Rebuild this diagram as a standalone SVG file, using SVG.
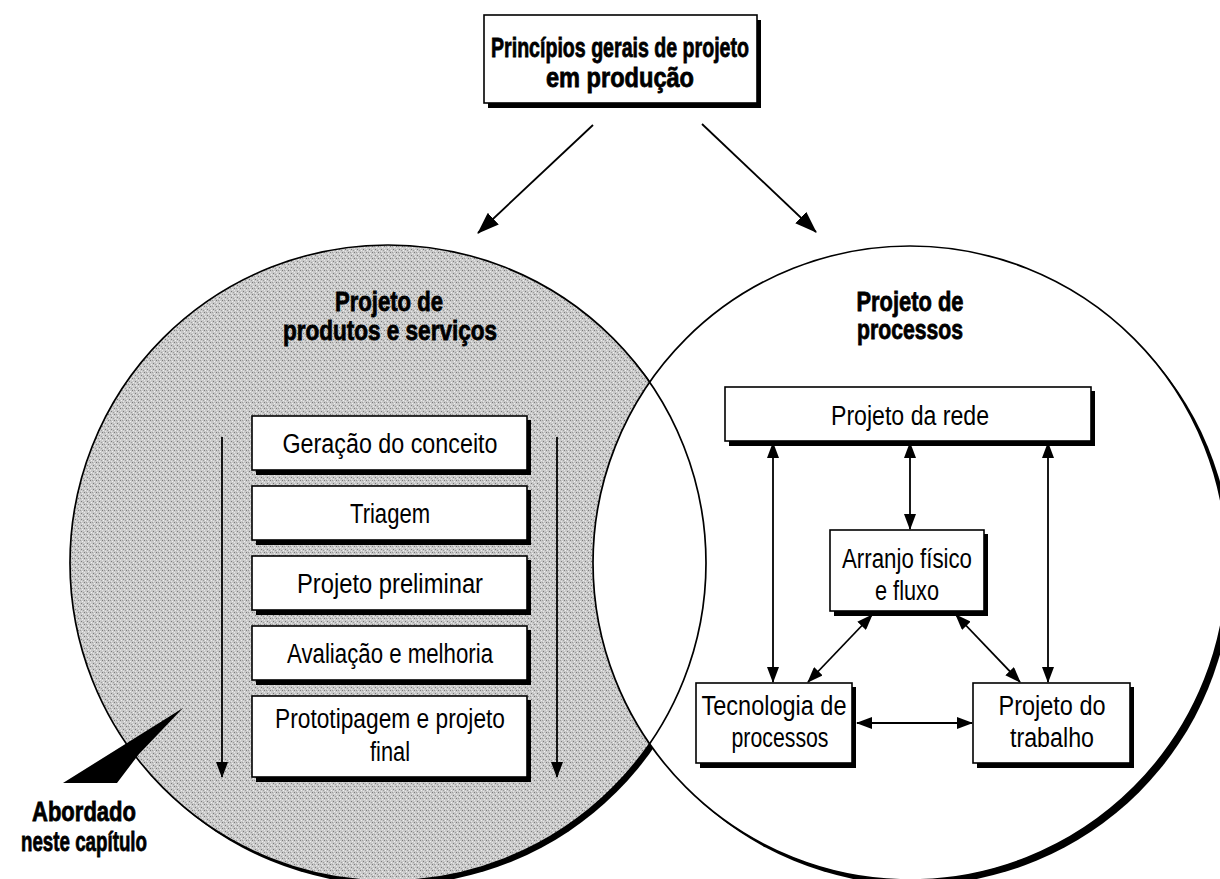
<svg xmlns="http://www.w3.org/2000/svg" width="1220" height="879" viewBox="0 0 1220 879">
  <style>
    .t { font-family: "Liberation Sans Narrow", "Liberation Sans", Arial, sans-serif; font-size: 27px; fill: #000; text-anchor: middle; }
    .b { font-family: "Liberation Sans Narrow", "Liberation Sans", Arial, sans-serif; font-size: 28px; font-weight: bold; fill: #000; stroke: #000; stroke-width: 0.8; text-anchor: middle; }
    .box { fill: #fff; stroke: #000; stroke-width: 1.6; }
    .shadow { fill: #000; }
    .ln { stroke: #000; stroke-width: 1.8; fill: none; }
    .ring { fill: none; stroke: #000; stroke-width: 1.7; }
  </style>
  <defs>
    <marker id="ah" viewBox="0 0 16 12" refX="15" refY="6" markerWidth="16" markerHeight="12" markerUnits="userSpaceOnUse" orient="auto-start-reverse">
      <path d="M0,0 L16,6 L0,12 z" fill="#000"/>
    </marker>
    <marker id="ahl" viewBox="0 0 22 16" refX="21" refY="8" markerWidth="22" markerHeight="16" markerUnits="userSpaceOnUse" orient="auto">
      <path d="M0,0 L22,8 L0,16 z" fill="#000"/>
    </marker>
    <!-- halftone-like grain for the shaded circle -->
    <pattern id="grain" width="6" height="6" patternUnits="userSpaceOnUse">
      <rect width="6" height="6" fill="#c9c9c9"/>
      <rect x="0" y="0" width="1" height="1" fill="#7a7a7a"/>
      <rect x="3" y="3" width="1" height="1" fill="#7a7a7a"/>
      <rect x="2" y="0" width="1" height="1" fill="#9e9e9e"/>
      <rect x="5" y="4" width="1" height="1" fill="#9e9e9e"/>
      <rect x="4" y="1" width="1" height="1" fill="#f0f0f0"/>
      <rect x="1" y="4" width="1" height="1" fill="#f0f0f0"/>
      <rect x="0" y="2" width="1" height="1" fill="#e6e6e6"/>
      <rect x="3" y="5" width="1" height="1" fill="#e6e6e6"/>
    </pattern>
  </defs>

  <rect width="1220" height="879" fill="#fff"/>

  <!-- two overlapping circles: products/services (shaded) and processes -->
  <g id="circles">
    <circle cx="392" cy="567" r="318" fill="#000"/>
    <circle cx="388" cy="563" r="318" fill="url(#grain)"/>
    <circle cx="915" cy="568" r="317" fill="#000"/>
    <circle cx="910" cy="563" r="317" fill="#fff"/>
    <circle cx="388" cy="563" r="318" class="ring"/>
    <circle cx="910" cy="563" r="317" class="ring"/>
  </g>

  <!-- headings inside the circles -->
  <g id="heading-products">
    <text class="b" x="389" y="311" textLength="108" lengthAdjust="spacingAndGlyphs">Projeto de</text>
    <text class="b" x="390" y="340" textLength="214" lengthAdjust="spacingAndGlyphs">produtos e serviços</text>
  </g>
  <g id="heading-processes">
    <text class="b" x="910" y="311" textLength="107" lengthAdjust="spacingAndGlyphs">Projeto de</text>
    <text class="b" x="910" y="339" textLength="106" lengthAdjust="spacingAndGlyphs">processos</text>
  </g>

  <!-- top node -->
  <g id="principios">
    <rect class="shadow" x="488" y="20" width="273" height="88"/>
    <rect class="box" x="484" y="15" width="273" height="88"/>
    <text class="b" x="620" y="57" textLength="258" lengthAdjust="spacingAndGlyphs">Princípios gerais de projeto</text>
    <text class="b" x="620" y="87" textLength="148" lengthAdjust="spacingAndGlyphs">em produção</text>
  </g>

  <!-- product design stages -->
  <g id="geracao">
    <rect class="shadow" x="256" y="420" width="275" height="55"/>
    <rect class="box" x="252" y="416" width="275" height="54"/>
    <text class="t" x="390" y="453" textLength="215" lengthAdjust="spacingAndGlyphs">Geração do conceito</text>
  </g>
  <g id="triagem">
    <rect class="shadow" x="256" y="490" width="275" height="55"/>
    <rect class="box" x="252" y="486" width="275" height="54"/>
    <text class="t" x="390" y="523" textLength="80" lengthAdjust="spacingAndGlyphs">Triagem</text>
  </g>
  <g id="preliminar">
    <rect class="shadow" x="256" y="560" width="275" height="55"/>
    <rect class="box" x="252" y="556" width="275" height="54"/>
    <text class="t" x="390" y="593" textLength="186" lengthAdjust="spacingAndGlyphs">Projeto preliminar</text>
  </g>
  <g id="avaliacao">
    <rect class="shadow" x="256" y="630" width="275" height="55"/>
    <rect class="box" x="252" y="626" width="275" height="54"/>
    <text class="t" x="390" y="663" textLength="206" lengthAdjust="spacingAndGlyphs">Avaliação e melhoria</text>
  </g>
  <g id="prototipagem">
    <rect class="shadow" x="256" y="700" width="275" height="82"/>
    <rect class="box" x="252" y="696" width="275" height="81"/>
    <text class="t" x="390" y="728" textLength="230" lengthAdjust="spacingAndGlyphs">Prototipagem e projeto</text>
    <text class="t" x="390" y="761" textLength="40" lengthAdjust="spacingAndGlyphs">final</text>
  </g>

  <!-- process design nodes -->
  <g id="rede">
    <rect class="shadow" x="729" y="391" width="366" height="55"/>
    <rect class="box" x="725" y="387" width="366" height="54"/>
    <text class="t" x="910" y="425" textLength="158" lengthAdjust="spacingAndGlyphs">Projeto da rede</text>
  </g>
  <g id="arranjo">
    <rect class="shadow" x="834" y="534" width="154" height="82"/>
    <rect class="box" x="830" y="530" width="154" height="81"/>
    <text class="t" x="907" y="568" textLength="130" lengthAdjust="spacingAndGlyphs">Arranjo físico</text>
    <text class="t" x="907" y="600" textLength="64" lengthAdjust="spacingAndGlyphs">e fluxo</text>
  </g>
  <g id="tecnologia">
    <rect class="shadow" x="700" y="687" width="156" height="81"/>
    <rect class="box" x="696" y="683" width="156" height="80"/>
    <text class="t" x="774" y="715" textLength="145" lengthAdjust="spacingAndGlyphs">Tecnologia de</text>
    <text class="t" x="780" y="747" textLength="97" lengthAdjust="spacingAndGlyphs">processos</text>
  </g>
  <g id="trabalho">
    <rect class="shadow" x="977" y="687" width="157" height="81"/>
    <rect class="box" x="973" y="683" width="157" height="80"/>
    <text class="t" x="1052" y="715" textLength="107" lengthAdjust="spacingAndGlyphs">Projeto do</text>
    <text class="t" x="1052" y="747" textLength="84" lengthAdjust="spacingAndGlyphs">trabalho</text>
  </g>

  <!-- callout -->
  <g id="abordado">
    <polygon points="183,708 63,783 117,783 139,754" fill="#000"/>
    <text class="b" x="84" y="821" textLength="104" lengthAdjust="spacingAndGlyphs">Abordado</text>
    <text class="b" x="84" y="851" textLength="126" lengthAdjust="spacingAndGlyphs">neste capítulo</text>
  </g>

  <!-- connectors -->
  <g id="connectors" class="ln">
    <line x1="593" y1="125" x2="478" y2="233" marker-end="url(#ahl)"/>
    <line x1="702" y1="124" x2="816" y2="232" marker-end="url(#ahl)"/>
    <line x1="222" y1="437" x2="222" y2="777" marker-end="url(#ah)"/>
    <line x1="557" y1="437" x2="557" y2="777" marker-end="url(#ah)"/>
    <line x1="773" y1="443" x2="773" y2="682" marker-start="url(#ah)" marker-end="url(#ah)"/>
    <line x1="910" y1="443" x2="910" y2="529" marker-start="url(#ah)" marker-end="url(#ah)"/>
    <line x1="1048" y1="443" x2="1048" y2="682" marker-start="url(#ah)" marker-end="url(#ah)"/>
    <line x1="872" y1="615" x2="808" y2="682" marker-start="url(#ah)" marker-end="url(#ah)"/>
    <line x1="956" y1="615" x2="1020" y2="682" marker-start="url(#ah)" marker-end="url(#ah)"/>
    <line x1="857" y1="723" x2="972" y2="723" marker-start="url(#ah)" marker-end="url(#ah)"/>
  </g>
</svg>
